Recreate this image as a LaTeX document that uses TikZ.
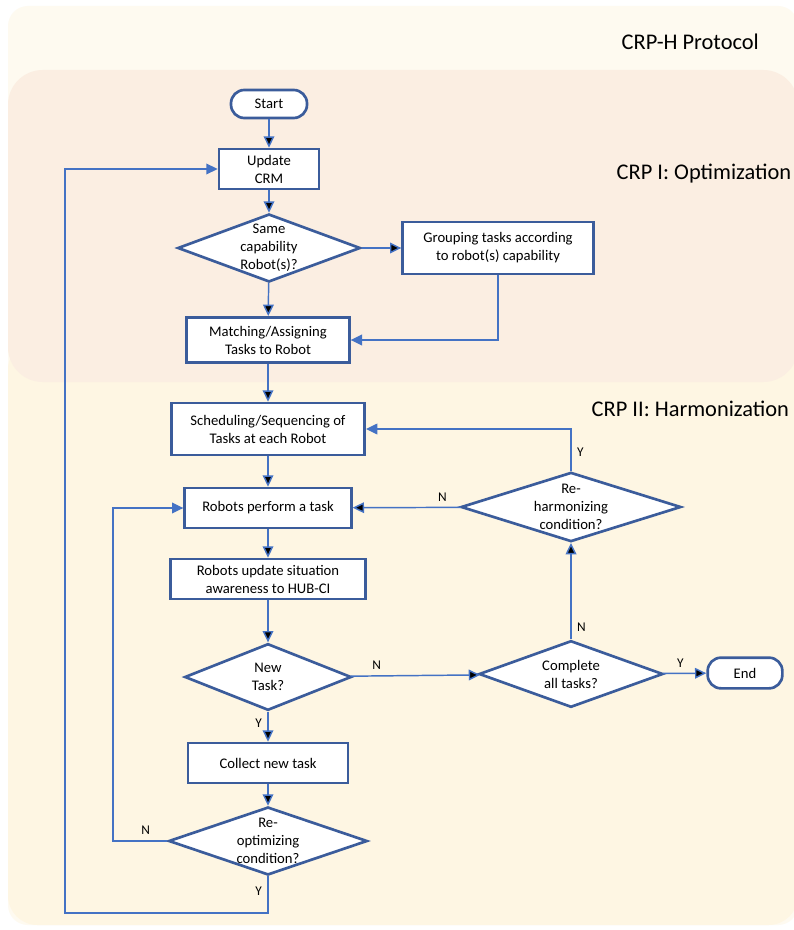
\documentclass[tikz,border=0pt]{standalone}
\usepackage{fontspec}
\setmainfont{Carlito}
\usepackage{tikz}
\usetikzlibrary{shapes.geometric}
\usetikzlibrary{arrows.meta}

\definecolor{linkblue}{HTML}{4472C4}
\definecolor{boxblue}{HTML}{3B5C9B}
\definecolor{topcream}{HTML}{FEFAF0}
\definecolor{optpeach}{HTML}{FBEEE2}
\definecolor{harmcream}{HTML}{FEF6E3}

\begin{document}
\begin{tikzpicture}[x=0.75pt,y=-0.75pt
   ,font=\fontsize{11}{13.5}\selectfont
   ,process/.style={draw=boxblue,line width=2pt,fill=white,align=center,inner sep=0pt}
   ,decision/.style={diamond,draw=boxblue,line width=2pt,fill=white,inner sep=0pt}
   ,terminal/.style={draw=boxblue,line width=2pt,fill=white,rounded corners=10pt,inner sep=0pt}
   ,link/.style={draw=linkblue,line width=1.1pt,-{Stealth[length=8.5pt,width=8pt,inset=0pt]}}
   ,yn/.style={font=\fontsize{10}{11}\selectfont,inner sep=4pt}
   ,region/.style={font=\fontsize{16.8}{20}\selectfont,anchor=west}
   ]
  % background bands
  \useasboundingbox (0,0) rectangle (793,930);
  \fill[white] (0,0) rectangle (793,930);
  \fill[topcream,rounded corners=15pt] (8,6) rectangle (798,925);
  \fill[harmcream,rounded corners=22pt] (8,340) rectangle (798,925);
  \fill[optpeach,rounded corners=26pt] (8,70) rectangle (798,382);

  \node[region] (hdr) at (617,42) {CRP-H Protocol};
  \node[region] (opt) at (612,174) {CRP I: Optimization};
  \node[region] (harm) at (587,409) {CRP II: Harmonization};

  % flow nodes
  \node[terminal,minimum width=57pt,minimum height=21pt] (start) at (269,104) {Start};
  \node[process,minimum width=75pt,minimum height=30pt] (crm) at (269,169) {Update\\CRM};
  \node[decision,minimum width=137pt,minimum height=51pt
       ,label={[align=center]center:Same\\capability\\Robot(s)?}] (same) at (269,248) {};
  \node[process,minimum width=143pt,minimum height=39pt] (group) at (498,248)
       {Grouping tasks according\\to robot(s) capability};
  \node[process,minimum width=122pt,minimum height=34pt] (match) at (268,340)
       {Matching/Assigning\\Tasks to Robot};
  \node[process,minimum width=145pt,minimum height=39pt] (sched) at (268,429)
       {Scheduling/Sequencing of\\Tasks at each Robot};
  \node[process,minimum width=125pt,minimum height=30pt] (perform) at (268,508)
       {Robots perform a task};
  \node[decision,minimum width=165pt,minimum height=52pt
       ,label={[align=center]center:Re-\\harmonizing\\condition?}] (reharm) at (571,507) {};
  \node[process,minimum width=146pt,minimum height=30pt] (update) at (268,579)
       {Robots update situation\\awareness to HUB-CI};
  \node[decision,minimum width=125pt,minimum height=50pt
       ,label={[align=center]center:New\\Task?}] (newtask) at (268,677) {};
  \node[decision,minimum width=138pt,minimum height=50pt
       ,label={[align=center]center:Complete\\all tasks?}] (complete) at (571,674) {};
  \node[terminal,minimum width=56pt,minimum height=23pt] (end) at (745,673) {End};
  \node[process,minimum width=120pt,minimum height=30pt] (collect) at (268,763)
       {Collect new task};
  \node[decision,minimum width=149pt,minimum height=51pt
       ,label={[align=center]center:Re-\\optimizing\\condition?}] (reopt) at (268,841) {};

  \coordinate (nloop) at (113,841);
  \coordinate (yloop) at (65,913);

  % connectors
  \path[link]
    (start) edge (crm)
    (crm) edge (same)
    (same) edge (group)
    (same) edge (match)
    (match) edge (sched)
    (sched) edge (perform)
    (perform) edge (update)
    (update) edge (newtask)
    (newtask) edge node[yn,above,pos=0.2] {N} (complete)
    (complete) edge node[yn,above,pos=0.4] {Y} (end)
    (complete) edge node[yn,right,pos=0.13] {N} (reharm)
    (reharm) edge node[yn,above,pos=0.17] {N} (perform)
    (newtask) edge node[yn,left,pos=0.4] {Y} (collect)
    (collect) edge (reopt)
    ;
  \draw[link] (group.south) |- (match.east);
  \draw[link] (reharm.north) |- node[yn,right,pos=0.22] {Y} (sched.east);
  \draw[link] (reopt.west) -- node[yn,above,pos=0.4] {N} (nloop) |- (perform.west);
  \draw[link] (reopt.south) -- node[yn,left,pos=0.4] {Y} (reopt.south |- yloop)
    -- (yloop) |- (crm.west);
\end{tikzpicture}
\end{document}
